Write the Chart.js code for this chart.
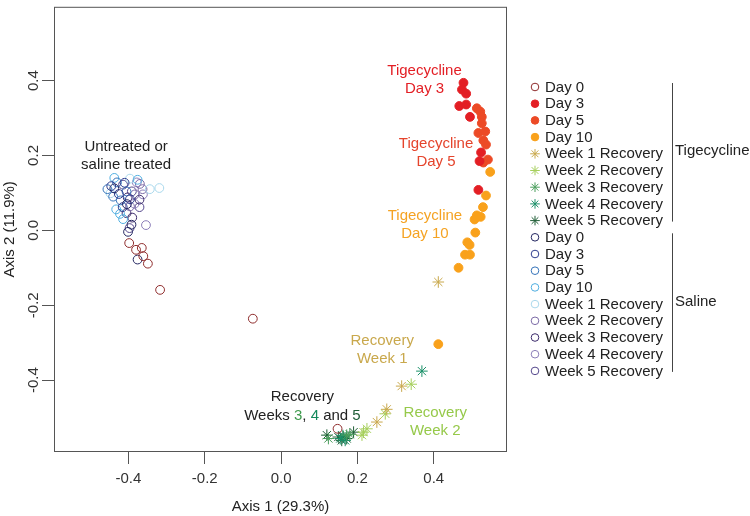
<!DOCTYPE html>
<html>
<head>
<meta charset="utf-8">
<script src="https://cdn.jsdelivr.net/npm/chart.js"></script>
<style>
  body { margin: 0; background: #fff; }
  canvas { display: block; }
</style>
</head>
<body>
<canvas id="pcoa" width="750" height="516"></canvas>
<script>
// tick labels
const xTicks = [-0.4, -0.2, 0.0, 0.2, 0.4];
const yTicks = [-0.4, -0.2, 0.0, 0.2, 0.4];

// legend / group names
const groupLabels = ["Day 0", "Day 3", "Day 5", "Day 10", "Week 1 Recovery",
  "Week 2 Recovery", "Week 3 Recovery", "Week 4 Recovery", "Week 5 Recovery"];

// tigecycline samples  [axis1, axis2]
const tigDay0 = [[-0.317, -0.159], [-0.349, -0.089], [-0.361, -0.069], [-0.380, -0.052],
  [-0.365, -0.047], [-0.398, -0.034], [-0.074, -0.236], [0.148, -0.530]];
const tigDay3 = [[0.478, 0.394], [0.474, 0.376], [0.485, 0.365], [0.467, 0.332], [0.485, 0.336],
  [0.495, 0.303], [0.524, 0.208], [0.520, 0.185], [0.517, 0.108]];
const tigDay5 = [[0.513, 0.326], [0.522, 0.317], [0.526, 0.303], [0.526, 0.286], [0.517, 0.260],
  [0.535, 0.264], [0.537, 0.229], [0.530, 0.240], [0.542, 0.189], [0.530, 0.181]];
const tigDay10 = [[0.548, 0.156], [0.537, 0.093], [0.529, 0.062], [0.513, 0.040], [0.523, 0.036],
  [0.507, 0.029], [0.509, -0.006], [0.488, -0.032], [0.494, -0.039], [0.482, -0.065],
  [0.495, -0.065], [0.465, -0.100], [0.412, -0.304]];
const tigWeek1 = [[0.412, -0.138], [0.316, -0.416], [0.277, -0.478], [0.251, -0.512]];
const tigWeek2 = [[0.341, -0.411], [0.273, -0.490], [0.225, -0.530], [0.216, -0.539], [0.212, -0.547]];
const tigWeek3 = [[0.172, -0.547], [0.124, -0.556], [0.180, -0.545]];
const tigWeek4 = [[0.369, -0.376], [0.155, -0.556], [0.168, -0.561], [0.162, -0.548]];
const tigWeek5 = [[0.190, -0.539], [0.163, -0.552], [0.150, -0.552], [0.159, -0.561],
  [0.120, -0.547], [0.172, -0.556]];

// saline samples
const salDay0 = [[-0.437, 0.112], [-0.404, 0.070], [-0.392, 0.015], [-0.376, -0.078], [-0.401, -0.004]];
const salDay3 = [[-0.445, 0.118], [-0.425, 0.097], [-0.410, 0.127], [-0.415, 0.062], [-0.396, 0.083]];
const salDay5 = [[-0.455, 0.110], [-0.430, 0.128], [-0.420, 0.080], [-0.440, 0.090], [-0.405, 0.104]];
const salDay10 = [[-0.437, 0.140], [-0.422, 0.044], [-0.432, 0.056], [-0.376, 0.135], [-0.414, 0.030]];
const salWeek1 = [[-0.319, 0.113], [-0.344, 0.110], [-0.447, 0.099], [-0.396, 0.138]];
const salWeek2 = [[-0.370, 0.124], [-0.383, 0.096], [-0.363, 0.110], [-0.396, 0.064]];
const salWeek3 = [[-0.402, 0.088], [-0.390, 0.034], [-0.371, 0.082], [-0.405, 0.046]];
const salWeek4 = [[-0.354, 0.014], [-0.378, 0.128], [-0.384, 0.071], [-0.362, 0.096]];
const salWeek5 = [[-0.391, 0.104], [-0.414, 0.122], [-0.371, 0.062], [-0.397, 0.006]];

const tigData = [tigDay0, tigDay3, tigDay5, tigDay10, tigWeek1, tigWeek2, tigWeek3, tigWeek4, tigWeek5];
const salData = [salDay0, salDay3, salDay5, salDay10, salWeek1, salWeek2, salWeek3, salWeek4, salWeek5];

const tigColors = ["#8e2b2b", "#e31e24", "#ec4a26", "#f9a11b", "#c9a84c",
  "#a6cf5c", "#4a9e5c", "#1a9068", "#1f5d36"];
const salColors = ["#232660", "#2e3c8e", "#3573b9", "#50aee0", "#a9d8ec",
  "#7b6aa6", "#3d2c6c", "#8a7cb8", "#54478c"];
const tigStyles = ["open", "filled", "filled", "filled", "star", "star", "star", "star", "star"];

function makeSet(points, label, color, style, group) {
  return {
    label: label,
    group: group,
    data: points.map(p => ({ x: p[0], y: p[1] })),
    pointStyle: style === "star" ? "star" : "circle",
    pointRadius: style === "star" ? 5.8 : 4.4,
    pointBorderWidth: 1,
    borderColor: color,
    backgroundColor: style === "filled" ? color : "rgba(0,0,0,0)",
    hoverRadius: 0
  };
}

const datasets = [];
groupLabels.forEach((l, i) => datasets.push(makeSet(tigData[i], l, tigColors[i], tigStyles[i], "Tigecycline")));
groupLabels.forEach((l, i) => datasets.push(makeSet(salData[i], l, salColors[i], "open", "Saline")));

// text labels placed in data units
const notes = [
  { lines: [[["Untreated or", "#222"]], [["saline treated", "#222"]]], x: -0.406, y: 0.224 },
  { lines: [[["Tigecycline", "#e31e24"]], [["Day 3", "#e31e24"]]], x: 0.376, y: 0.426 },
  { lines: [[["Tigecycline", "#e5442c"]], [["Day 5", "#e5442c"]]], x: 0.406, y: 0.232 },
  { lines: [[["Tigecycline", "#f5a323"]], [["Day 10", "#f5a323"]]], x: 0.377, y: 0.039 },
  { lines: [[["Recovery", "#c9a84c"]], [["Week 1", "#c9a84c"]]], x: 0.265, y: -0.295 },
  { lines: [[["Recovery", "#96c94a"]], [["Week 2", "#96c94a"]]], x: 0.404, y: -0.487 },
  { lines: [[["Recovery", "#222"]],
    [["Weeks ", "#222"], ["3", "#3f9a4e"], [", ", "#222"], ["4", "#148a5c"],
     [" and ", "#222"], ["5", "#1f5d36"]]], x: 0.056, y: -0.445 }
];

const FONT = "15px 'Liberation Sans', Arial, sans-serif";

const decorations = {
  id: "decorations",
  afterDraw(chart) {
    const { ctx, chartArea: a, scales } = chart;
    ctx.save();
    // box around the plot
    ctx.strokeStyle = "#555";
    ctx.lineWidth = 1;
    ctx.strokeRect(a.left + 0.5, a.top + 0.5, a.right - a.left - 1, a.bottom - a.top - 1);

    // in-plot labels
    ctx.font = FONT;
    ctx.textBaseline = "middle";
    ctx.textAlign = "left";
    notes.forEach(n => {
      const cx = scales.x.getPixelForValue(n.x);
      let cy = scales.y.getPixelForValue(n.y);
      n.lines.forEach(segs => {
        const w = segs.reduce((s, g) => s + ctx.measureText(g[0]).width, 0);
        let tx = cx - w / 2;
        segs.forEach(g => {
          ctx.fillStyle = g[1];
          ctx.fillText(g[0], tx, cy);
          tx += ctx.measureText(g[0]).width;
        });
        cy += 18.5;
      });
    });

    // legend
    const rowH = 16.7, top0 = 87, mx = 535, tx = 545, barX = 672.5;
    chart.data.datasets.forEach((ds, i) => {
      const y = top0 + i * rowH;
      ctx.strokeStyle = ds.borderColor;
      ctx.fillStyle = ds.backgroundColor;
      ctx.lineWidth = 1;
      ctx.beginPath();
      if (ds.pointStyle === "star") {
        const r = 4.8;
        for (let k = 0; k < 4; k++) {
          const ang = k * Math.PI / 4;
          ctx.moveTo(mx - r * Math.cos(ang), y - r * Math.sin(ang));
          ctx.lineTo(mx + r * Math.cos(ang), y + r * Math.sin(ang));
        }
        ctx.stroke();
      } else {
        ctx.arc(mx, y, 3.8, 0, Math.PI * 2);
        ctx.fill();
        ctx.stroke();
      }
      ctx.fillStyle = "#222";
      ctx.fillText(ds.label, tx, y + 0.5);
    });
    // group brackets
    const groups = ["Tigecycline", "Saline"];
    ctx.strokeStyle = "#444";
    groups.forEach((g, gi) => {
      const first = gi * groupLabels.length;
      const last = first + groupLabels.length - 1;
      const y1 = top0 + first * rowH - 4;
      const y2 = top0 + last * rowH + 1;
      ctx.beginPath();
      ctx.moveTo(barX, y1);
      ctx.lineTo(barX, y2);
      ctx.stroke();
      ctx.fillStyle = "#222";
      ctx.fillText(g, 675, (y1 + y2) / 2 - 1);
    });
    ctx.restore();
  }
};

Chart.defaults.font.family = "'Liberation Sans', Arial, sans-serif";
Chart.defaults.font.size = 15;
Chart.defaults.color = "#333";

new Chart(document.getElementById("pcoa"), {
  type: "scatter",
  data: { datasets: datasets },
  options: {
    responsive: false,
    animation: false,
    events: [],
    layout: { padding: { top: 0, right: 243, left: 0, bottom: 0 } },
    plugins: { legend: { display: false }, tooltip: { enabled: false } },
    scales: {
      x: {
        type: "linear",
        min: -0.595, max: 0.592,
        border: { display: false },
        grid: { drawOnChartArea: false, drawTicks: true, tickLength: 12, color: "#555" },
        ticks: { padding: 6, color: "#333", callback: v => v.toFixed(1) },
        afterBuildTicks: s => { s.ticks = xTicks.map(v => ({ value: v })); },
        afterFit: s => { s.height = 64; s.paddingLeft = 0; s.paddingRight = 0; },
        title: { display: true, text: "Axis 1 (29.3%)", color: "#222", padding: { top: 0, bottom: 0 } }
      },
      y: {
        type: "linear",
        min: -0.592, max: 0.597,
        border: { display: false },
        grid: { drawOnChartArea: false, drawTicks: true, tickLength: 12, color: "#555" },
        ticks: { padding: -5, color: "#333", minRotation: 90, maxRotation: 90, crossAlign: "center",
          callback: v => v.toFixed(1) },
        afterBuildTicks: s => { s.ticks = yTicks.map(v => ({ value: v })); },
        afterFit: s => { s.width = 54; s.paddingTop = 0; s.paddingBottom = 0; },
        title: { display: true, text: "Axis 2 (11.9%)", color: "#222", padding: { top: 1, bottom: 0 } }
      }
    }
  },
  plugins: [decorations]
});
</script>
</body>
</html>
